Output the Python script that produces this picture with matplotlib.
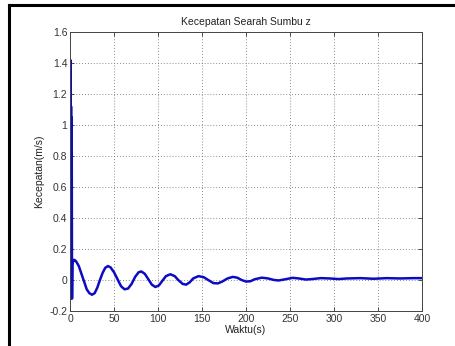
import matplotlib
matplotlib.use("Agg")
import matplotlib.pyplot as plt
from matplotlib.lines import Line2D

plt.rcParams["font.family"] = ["Liberation Sans", "DejaVu Sans"]

# velocity response along z, read at irregular times
waktu = [0, 0.3, 0.6, 0.8, 1.0, 1.2, 1.4, 1.6, 1.8, 2.0, 2.3, 2.7, 3.2, 4, 5, 7,
         10, 13, 16, 19, 22, 25, 28, 31,
         34, 37, 40, 43, 46, 50, 54, 58, 62, 66, 70, 74, 78, 81, 85, 89, 93, 97,
         101, 105, 109, 114, 119, 123, 128, 132, 136, 140, 146, 152, 157, 163,
         168, 173, 179, 185, 190, 195, 200, 205, 210, 218, 225, 232, 237, 245,
         253, 260, 268, 275, 285, 295, 305, 315, 330, 345, 360, 375, 390, 400]
kecepatan = [0.0, 1.42, -0.12, 1.15, -0.11, 1.12, -0.10, 1.05, -0.09, 0.8,
             -0.12, 0.10, 0.13, 0.12, 0.13, 0.12, 0.09,
             0.04, -0.01, -0.06, -0.085, -0.095, -0.085, -0.05, 0.0, 0.045, 0.078,
             0.09, 0.082, 0.05, 0.005, -0.04, -0.06, -0.055, -0.025, 0.02, 0.05,
             0.055, 0.04, 0.005, -0.03, -0.045, -0.035, -0.005, 0.025, 0.037,
             0.025, 0.0, -0.025, -0.03, -0.015, 0.01, 0.025, 0.018, 0.0, -0.02,
             -0.022, -0.01, 0.01, 0.02, 0.015, 0.0, -0.01, -0.008, 0.005, 0.015,
             0.01, 0.0, -0.003, 0.005, 0.014, 0.01, 0.003, 0.006, 0.012, 0.01,
             0.006, 0.01, 0.012, 0.008, 0.012, 0.01, 0.012, 0.012]

x_ticks = [0, 50, 100, 150, 200, 250, 300, 350, 400]
y_ticks = [-0.2, 0, 0.2, 0.4, 0.6, 0.8, 1, 1.2, 1.4, 1.6]
y_labels = ["-0.2", "0", "0.2", "0.4", "0.6", "0.8", "1", "1.2", "1.4", "1.6"]

fig = plt.figure(figsize=(4.56, 3.46), dpi=100)
fig.patch.set_facecolor("white")

# black frame edges (top and left) of the figure window
x0, y0 = 9 / 456, 1 - 5 / 346
fig.add_artist(Line2D([x0, 1.0], [y0, y0], transform=fig.transFigure,
                      color="black", linewidth=2.2))
fig.add_artist(Line2D([x0, x0], [0.0, y0], transform=fig.transFigure,
                      color="black", linewidth=2.2))

ax = fig.add_axes([70 / 456, 1 - 311 / 346, 352 / 456, 279 / 346])
ax.plot(waktu, kecepatan, color="#0b0bc4", linewidth=1.8)

ax.set_xlim(0, 400)
ax.set_ylim(-0.2, 1.6)
ax.set_xticks(x_ticks)
ax.set_yticks(y_ticks)
ax.set_yticklabels(y_labels)
ax.tick_params(direction="in", length=3, width=0.6, labelsize=7.5,
               colors="#333333", top=True, right=True, pad=2)
ax.grid(True, linestyle=(0, (1, 2.5)), linewidth=0.6, color="#666666")
for s in ax.spines.values():
    s.set_linewidth(0.7)
    s.set_color("#444444")

ax.set_title("Kecepatan Searah Sumbu z", fontsize=7.5, color="#222222", pad=5)
ax.set_xlabel("Waktu(s)", fontsize=7.5, color="#222222", labelpad=1)
ax.set_ylabel("Kecepatan(m/s)", fontsize=7.5, color="#222222", labelpad=4)

fig.savefig("out.png", dpi=100)
